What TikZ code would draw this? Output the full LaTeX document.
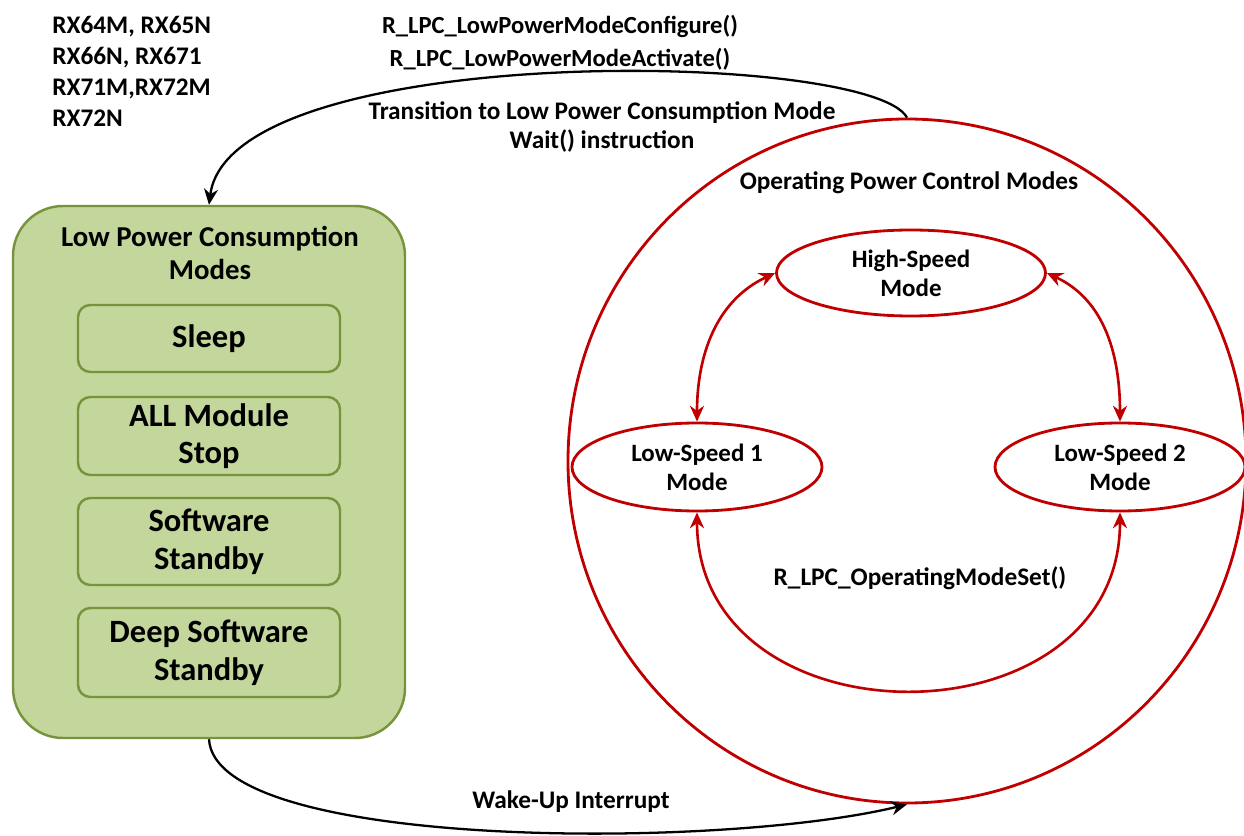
\documentclass[tikz,border=0pt]{standalone}
\usepackage{fontspec}
\setmainfont{Carlito}
\usetikzlibrary{shapes, arrows.meta}
\definecolor{lpcred}{HTML}{C00000}
\definecolor{lpcgreen}{HTML}{C3D69B}
\definecolor{lpcedge}{HTML}{77933C}
\tikzstyle{arrow} = [-{Stealth[length=9pt,width=8pt]}, line width=1.3pt]
\tikzstyle{redarrow} = [{Stealth[length=9pt,width=8pt]}-{Stealth[length=9pt,width=8pt]}, draw=lpcred, line width=1.5pt]
\tikzstyle{mode} = [ellipse, draw=lpcred, line width=1.6pt, minimum width=5cm, minimum height=1.76cm, inner sep=0pt, align=center, font=\fontsize{14.2}{16.5}\selectfont\bfseries]
\tikzstyle{lpmbox} = [rectangle, draw=lpcedge, fill=lpcgreen, line width=1.4pt, rounded corners=7pt, minimum width=5.24cm, align=center, font=\fontsize{18.5}{21.4}\selectfont\bfseries]
\tikzstyle{label} = [align=center, inner sep=0pt, font=\fontsize{14.4}{17}\selectfont\bfseries]

\begin{document}
\begin{tikzpicture}
    \useasboundingbox (0,0) rectangle (24.88,-16.72);

    % parts list
    \node (parts) [anchor=north west, align=left, inner sep=0pt, font=\fontsize{14.4}{17.6}\selectfont\bfseries] at (1.04,-0.32) {RX64M, RX65N\\RX66N, RX671\\RX71M,RX72M\\RX72N};

    % low power consumption modes
    \node (lpc) [rectangle, draw=lpcedge, fill=lpcgreen, line width=1.4pt, rounded corners=1cm, minimum width=7.84cm, minimum height=10.64cm] at (4.18,-9.44) {};
    \node (lpctitle) [label, font=\fontsize{16.4}{18.8}\selectfont\bfseries] at (4.2,-5.06) {Low Power Consumption\\Modes};
    \node (sleep) [lpmbox, minimum height=1.34cm] at (4.18,-6.77) {Sleep};
    \node (allstop) [lpmbox, minimum height=1.56cm] at (4.18,-8.72) {ALL Module\\Stop};
    \node (swstby) [lpmbox, minimum height=1.74cm] at (4.18,-10.83) {Software\\Standby};
    \node (deepstby) [lpmbox, minimum height=1.78cm] at (4.18,-13.05) {Deep Software\\Standby};

    % operating power control modes
    \node (opc) [ellipse, draw=lpcred, line width=1.6pt, minimum width=13.56cm, minimum height=13.68cm] at (18.14,-9.22) {};
    \node (opctitle) [label] at (18.18,-3.66) {Operating Power Control Modes};
    \node (hs) [mode, minimum width=5.38cm, minimum height=1.72cm] at (18.22,-5.46) {High-Speed\\Mode};
    \node (ls1) [mode] at (13.94,-9.34) {Low-Speed 1\\Mode};
    \node (ls2) [mode] at (22.4,-9.34) {Low-Speed 2\\Mode};

    \draw [redarrow] (hs.west) to [out=205, in=90] (ls1.north);
    \draw [redarrow] (hs.east) to [out=-25, in=90] (ls2.north);
    \draw [redarrow] (ls1.south) .. controls +(0,-4.72) and +(0,-4.72) .. (ls2.south);
    \node (setmode) [label] at (18.4,-11.56) {R\_LPC\_OperatingModeSet()};

    % transitions
    \node (config) [label, font=\fontsize{14}{18.7}\selectfont\bfseries] at (11.2,-0.85) {R\_LPC\_LowPowerModeConfigure()\\R\_LPC\_LowPowerModeActivate()};
    \node (enter) [label] at (12.04,-2.54) {Transition to Low Power Consumption Mode\\Wait() instruction};
    \draw [arrow] (opc.north) .. controls (17.4,-1.0) and (4.6,-0.8) .. (lpc.north);

    \draw [arrow] (lpc.south) .. controls (4.3,-17.0) and (14.4,-17.0) .. (opc.south);
    \node (wake) [label] at (11.42,-16.04) {Wake-Up Interrupt};

\end{tikzpicture}
\end{document}
